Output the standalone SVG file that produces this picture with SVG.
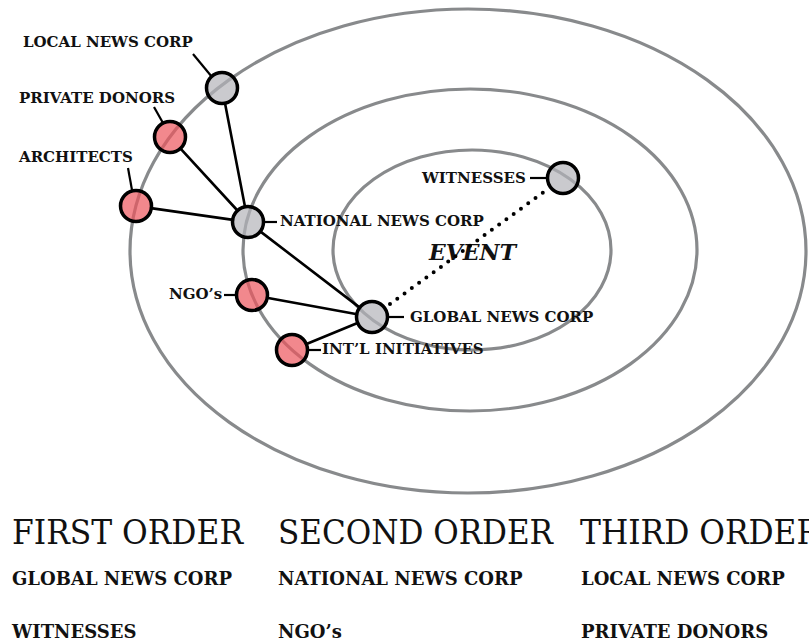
<svg xmlns="http://www.w3.org/2000/svg" width="809" height="643" viewBox="0 0 809 643">
<style>
.ring{fill:none;stroke:#888a8c;stroke-width:3.2}
.link{stroke:#000;stroke-width:2.6;stroke-linecap:round;fill:none}
.dot{stroke:#000;stroke-width:4;stroke-linecap:round;stroke-dasharray:0 9;fill:none}
.tick{stroke:#000;stroke-width:2.2;fill:none}
.grey{fill:#b3b4b9;fill-opacity:0.7;stroke:#000;stroke-width:3.5}
.pink{fill:#ec565d;fill-opacity:0.7;stroke:#000;stroke-width:3.5}
.lbl{font-family:"DejaVu Serif",serif;font-weight:bold;font-size:15px;fill:#111}
.ev{font-family:"DejaVu Serif",serif;font-weight:bold;font-style:italic;font-size:22px;fill:#111}
.hd{font-family:"DejaVu Serif Condensed","DejaVu Serif",serif;font-stretch:condensed;font-size:33px;fill:#111}
.sub{font-family:"DejaVu Serif",serif;font-weight:bold;font-size:18px;fill:#111}
</style>
<rect width="809" height="643" fill="#fff"/>
<g id="orbits">
<ellipse class="ring" cx="468" cy="251" rx="338" ry="242"/>
<ellipse class="ring" cx="470" cy="250" rx="227" ry="161"/>
<ellipse class="ring" cx="472" cy="250" rx="139" ry="100"/>
</g>
<text class="ev" x="429" y="260">EVENT</text>
<g id="connectors">
<line class="link" x1="224.9" y1="102.7" x2="245.1" y2="207.3"/>
<line class="link" x1="180.1" y1="148.1" x2="237.9" y2="211"/>
<line class="link" x1="150.9" y1="208.1" x2="233.1" y2="219.9"/>
<line class="link" x1="259.9" y1="231.1" x2="360.1" y2="307.9"/>
<line class="link" x1="266.8" y1="297.7" x2="357.2" y2="314.3"/>
<line class="link" x1="305.9" y1="344.3" x2="358.1" y2="322.7"/>
<line class="dot" x1="390" y1="304" x2="546.8" y2="189.8"/>
</g>
<g id="local-news-corp">
<line class="tick" x1="193" y1="54" x2="212" y2="77"/>
<circle class="grey" cx="222" cy="88" r="15.5"/>
<text class="lbl" x="23" y="47">LOCAL NEWS CORP</text>
</g>
<g id="private-donors">
<line class="tick" x1="154" y1="107" x2="163" y2="123"/>
<circle class="pink" cx="170" cy="137" r="15.5"/>
<text class="lbl" x="19" y="103">PRIVATE DONORS</text>
</g>
<g id="architects">
<line class="tick" x1="128" y1="168" x2="132" y2="190"/>
<circle class="pink" cx="136" cy="206" r="15.5"/>
<text class="lbl" x="19" y="162">ARCHITECTS</text>
</g>
<g id="national-news-corp">
<line class="tick" x1="264" y1="222" x2="277" y2="222"/>
<circle class="grey" cx="248" cy="222" r="15.5"/>
<text class="lbl" x="280" y="226">NATIONAL NEWS CORP</text>
</g>
<g id="ngos">
<line class="tick" x1="224" y1="295" x2="237" y2="295"/>
<circle class="pink" cx="252" cy="295" r="15.5"/>
<text class="lbl" x="169" y="299">NGO’s</text>
</g>
<g id="global-news-corp">
<line class="tick" x1="388" y1="317" x2="404" y2="317"/>
<circle class="grey" cx="372" cy="317" r="15.5"/>
<text class="lbl" x="410" y="322">GLOBAL NEWS CORP</text>
</g>
<g id="intl-initiatives">
<line class="tick" x1="307" y1="350" x2="321" y2="350"/>
<circle class="pink" cx="292" cy="350" r="15.5"/>
<text class="lbl" x="322" y="354">INT’L INITIATIVES</text>
</g>
<g id="witnesses">
<line class="tick" x1="530" y1="178" x2="548" y2="178"/>
<circle class="grey" cx="563" cy="178" r="15.5"/>
<text class="lbl" x="422" y="183">WITNESSES</text>
</g>
<g id="legend">
<text class="hd" x="12" y="544" textLength="231" lengthAdjust="spacingAndGlyphs">FIRST ORDER</text>
<text class="hd" x="278" y="544" textLength="275" lengthAdjust="spacingAndGlyphs">SECOND ORDER</text>
<text class="hd" x="580" y="544" textLength="240" lengthAdjust="spacingAndGlyphs">THIRD ORDER</text>
<text class="sub" x="12" y="585">GLOBAL NEWS CORP</text>
<text class="sub" x="278" y="585">NATIONAL NEWS CORP</text>
<text class="sub" x="581" y="585">LOCAL NEWS CORP</text>
<text class="sub" x="12" y="638">WITNESSES</text>
<text class="sub" x="278" y="638">NGO’s</text>
<text class="sub" x="581" y="638">PRIVATE DONORS</text>
</g>
</svg>
